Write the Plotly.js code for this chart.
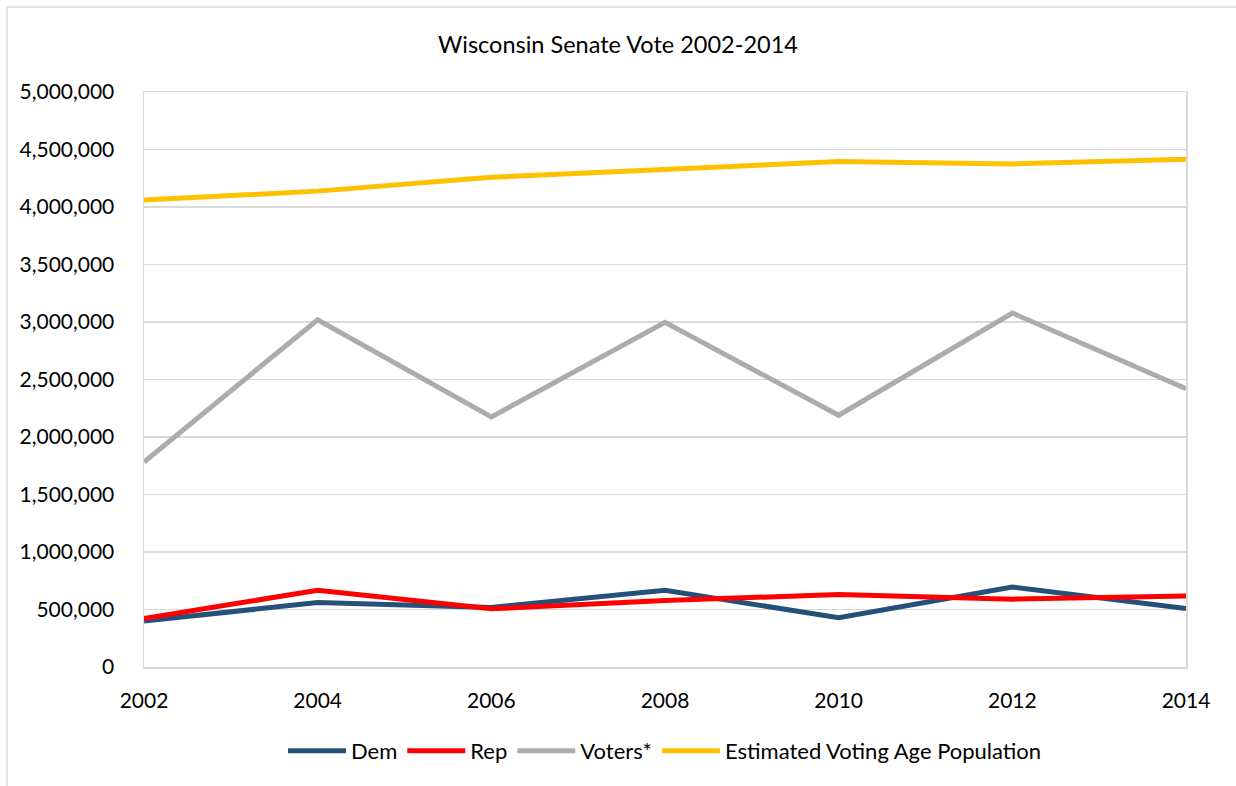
<!DOCTYPE html>
<html>
<head>
<meta charset="utf-8">
<script src="https://cdn.plot.ly/plotly-3.0.1.min.js"></script>
<style>
html,body{margin:0;padding:0;background:#fff;}
#chart{width:1236px;height:786px;}
</style>
</head>
<body>
<div id="chart"></div>
<script>
const years = [2002, 2004, 2006, 2008, 2010, 2012, 2014];
const dem = [400000, 560000, 518000, 668000, 428000, 696000, 509000];
const rep = [422000, 667000, 506000, 578000, 630000, 590000, 618000];
const voters = [1783000, 3020000, 2174000, 2997000, 2189000, 3078000, 2420000];
const evap = [4060000, 4138000, 4258000, 4328000, 4395000, 4375000, 4415000];
const seriesNames = ["Dem", "Rep", "Voters*", "Estimated Voting Age Population"];
const seriesColors = ["#255079", "#FF0000", "#AFABAB", "#FFC000"];
const yTicks = [0, 500000, 1000000, 1500000, 2000000, 2500000, 3000000, 3500000, 4000000, 4500000, 5000000];

const allSeries = [dem, rep, voters, evap];
const traces = allSeries.map((vals, i) => ({
  x: years, y: vals, name: seriesNames[i], type: "scatter", mode: "lines",
  line: {color: seriesColors[i], width: 5}
}));

const FONT = "Lato, 'Open Sans', sans-serif";
const layout = {
  width: 1236, height: 786,
  paper_bgcolor: "#fff", plot_bgcolor: "#fff",
  margin: {l: 144, r: 50, t: 92, b: 119},
  font: {family: FONT, size: 21, color: "#000"},
  title: {text: "Wisconsin Senate Vote 2002-2014", font: {family: FONT, size: 23.5, color: "#000"}, x: 0.5, xanchor: "center", y: 1 - 45/786, yanchor: "middle"},
  xaxis: {
    range: [2002, 2014], tickvals: years, ticktext: years.map(String),
    showgrid: false, zeroline: false, showline: true, linecolor: "#D9D9D9", linewidth: 1.5, mirror: true,
    ticks: "", ticklabelstandoff: 14, tickfont: {family: FONT, size: 21, color: "#000"}
  },
  yaxis: {
    range: [0, 5000000], tickvals: yTicks, ticktext: yTicks.map(v => v.toLocaleString("en-US")),
    showgrid: true, gridcolor: "#D9D9D9", gridwidth: 1.5, zeroline: false,
    showline: true, linecolor: "#D9D9D9", linewidth: 1.5, mirror: true,
    ticks: "", ticklabelstandoff: 24, tickfont: {family: FONT, size: 21, color: "#000"}
  },
  showlegend: true,
  legend: {orientation: "h", x: 0.5, xanchor: "center", y: -0.146, yanchor: "middle",
    font: {family: FONT, size: 22, color: "#000"}, itemwidth: 58, tracegroupgap: 0},
  shapes: [
    {type: "line", xref: "paper", yref: "paper", x0: -0.1315, x1: -0.1315, y0: 1.1478, y1: -0.21, line: {color: "#D9D9D9", width: 1.5}},
    {type: "line", xref: "paper", yref: "paper", x0: -0.1315, x1: 1.05, y0: 1.1478, y1: 1.1478, line: {color: "#D9D9D9", width: 1.5}}
  ]
};

Plotly.newPlot("chart", traces, layout, {displayModeBar: false, staticPlot: true});
</script>
</body>
</html>
